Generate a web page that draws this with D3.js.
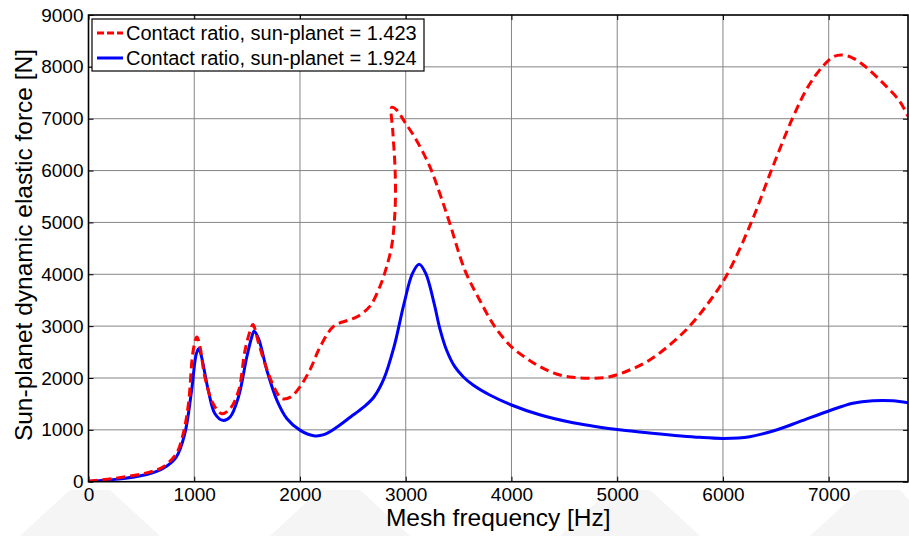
<!DOCTYPE html>
<html>
<head>
<meta charset="utf-8">
<script src="https://cdn.jsdelivr.net/npm/d3@7"></script>
<style>
    body { margin: 0; background: #ffffff; }
    .graph text { font-family: "Liberation Sans", Arial, sans-serif; fill: #000; }
    .style_tick { font-size: 19px; }
    .axis_label { font-size: 24.5px; }
    .legend_text { font-size: 20px; }
</style>
</head>
<body>
<div class="graph_container"></div>
<script>
//^ DATA //
const xTicks = [0, 1000, 2000, 3000, 4000, 5000, 6000, 7000];
const yTicks = [0, 1000, 2000, 3000, 4000, 5000, 6000, 7000, 8000, 9000];

const seriesNames = ["Contact ratio, sun-planet = 1.423", "Contact ratio, sun-planet = 1.924"];

// contact ratio 1.423 (red dashed)
const redFreq = [0, 230, 550, 700, 830, 895, 945, 990, 1025, 1055, 1100, 1180, 1260, 1340, 1420, 1480, 1530, 1555, 1610, 1690,
    1770, 1830, 1910, 2000, 2100, 2190, 2320, 2450, 2540, 2660, 2755, 2820, 2866, 2891, 2903, 2897, 2877, 2868, 2913, 2990,
    3100, 3228, 3322, 3417, 3559, 3700, 3842, 4000, 4142, 4267, 4425, 4582, 4756, 4929, 5118, 5307, 5496, 5685, 5874, 6041,
    6268, 6457, 6656, 6800, 6940, 7040, 7119, 7229, 7355, 7512, 7670, 7749];
const redForce = [10, 60, 170, 280, 540, 920, 1500, 2530, 2790, 2600, 2020, 1500, 1310, 1410, 1760, 2530, 2920, 3030, 2660, 2150,
    1760, 1600, 1630, 1830, 2180, 2600, 3000, 3110, 3180, 3380, 3760, 4150, 4530, 4980, 5500, 6140, 6780, 7220, 7170, 6940,
    6590, 6075, 5560, 4980, 4080, 3500, 2990, 2600, 2380, 2220, 2077, 2013, 1994, 2025, 2154, 2347, 2637, 3000, 3480, 4000,
    5000, 6000, 7000, 7600, 8000, 8190, 8230, 8170, 7990, 7690, 7340, 7050];

// contact ratio 1.924 (blue solid)
const blueFreq = [0, 230, 550, 700, 830, 910, 975, 1020, 1044, 1070, 1133, 1196, 1269, 1339, 1418, 1497, 1544, 1566, 1608, 1687,
    1782, 1877, 2003, 2130, 2225, 2351, 2478, 2604, 2699, 2794, 2889, 2984, 3063, 3127, 3190, 3269, 3322, 3386, 3464, 3543,
    3637, 3795, 4000, 4267, 4582, 4835, 5000, 5307, 5780, 6007, 6253, 6505, 6723, 7006, 7229, 7418, 7607, 7749];
const blueForce = [10, 40, 140, 250, 475, 920, 1760, 2470, 2570, 2400, 1760, 1310, 1183, 1248, 1633, 2405, 2790, 2900, 2760, 2148,
    1570, 1215, 990, 887, 907, 1055, 1248, 1441, 1633, 1987, 2598, 3434, 4013, 4193, 4013, 3434, 2958, 2540, 2218, 2025,
    1865, 1672, 1479, 1290, 1135, 1050, 1005, 940, 855, 835, 868, 997, 1157, 1369, 1512, 1562, 1562, 1524];

document.addEventListener("DOMContentLoaded", () => {
    //^ CHART CONTAINER DECLARATION//
    const container = document.querySelector(".graph_container");

    //^ DIMENTIONS //
    const svgWidth = 909;
    const svgHeight = 536;
    const plotLeft = 88.5;
    const plotRight = 908;
    const plotTop = 15;
    const plotBottom = 481.7;

    const svg = d3.select(container).append("svg").attr("width", svgWidth).attr("height", svgHeight).attr("class", "graph");

    //^ WATERMARK (faint background stripes) //
    const stripes = [[20, 536, 70, 490, 110, 490, 160, 536], [270, 536, 320, 490, 360, 490, 410, 536], [560, 536, 610, 490, 650, 490, 700, 536], [810, 536, 860, 490, 900, 490, 909, 500, 909, 536]];
    stripes.forEach((s) => {
        const pts = [];
        for (let i = 0; i < s.length; i += 2) pts.push(s[i] + "," + s[i + 1]);
        svg.append("polygon").attr("points", pts.join(" ")).attr("fill", "#f5f5f5");
    });

    //^ SCALES //
    const xScale = d3.scaleLinear().domain([0, 7750]).range([plotLeft, plotRight]);
    const yScale = d3.scaleLinear().domain([0, 9000]).range([plotBottom, plotTop]);

    svg.append("rect").attr("x", plotLeft).attr("y", plotTop).attr("width", plotRight - plotLeft).attr("height", plotBottom - plotTop).attr("fill", "#ffffff");

    //^ GRID //
    svg.append("g")
        .selectAll("line")
        .data(xTicks.filter((t) => t > 0))
        .join("line")
        .attr("x1", (d) => xScale(d))
        .attr("x2", (d) => xScale(d))
        .attr("y1", plotTop)
        .attr("y2", plotBottom)
        .attr("stroke", "#858585")
        .attr("stroke-width", 1);
    svg.append("g")
        .selectAll("line")
        .data(yTicks.filter((t) => t > 0 && t < 9000))
        .join("line")
        .attr("x1", plotLeft)
        .attr("x2", plotRight)
        .attr("y1", (d) => yScale(d))
        .attr("y2", (d) => yScale(d))
        .attr("stroke", "#858585")
        .attr("stroke-width", 1);

    //^ AXES (inside ticks, all four sides) //
    const xAxis = d3.axisBottom(xScale).tickValues(xTicks).tickSize(-5).tickSizeOuter(0).tickPadding(6).tickFormat(d3.format("d"));
    const yAxis = d3.axisLeft(yScale).tickValues(yTicks).tickSize(-5).tickSizeOuter(0).tickPadding(5).tickFormat(d3.format("d"));

    const gx = svg.append("g").attr("transform", "translate(0," + plotBottom + ")").call(xAxis);
    const gy = svg.append("g").attr("transform", "translate(" + plotLeft + ",0)").call(yAxis);
    svg.append("g").attr("transform", "translate(0," + plotTop + ")").call(d3.axisTop(xScale).tickValues(xTicks).tickSize(-5).tickSizeOuter(0).tickFormat(""));
    svg.append("g").attr("transform", "translate(" + plotRight + ",0)").call(d3.axisRight(yScale).tickValues(yTicks).tickSize(-5).tickSizeOuter(0).tickFormat(""));

    svg.selectAll(".domain").remove();
    svg.selectAll(".tick line").attr("stroke", "#000").attr("stroke-width", 1);
    gx.selectAll("text").attr("class", "style_tick");
    gy.selectAll("text").attr("class", "style_tick");

    //^ CURVES //
    svg.append("clipPath").attr("id", "plotClip").append("rect").attr("x", plotLeft).attr("y", plotTop).attr("width", plotRight - plotLeft).attr("height", plotBottom - plotTop);

    const line = d3
        .line()
        .x((d) => xScale(d[0]))
        .y((d) => yScale(d[1]))
        .curve(d3.curveCatmullRom.alpha(0.5));

    const redData = redFreq.map((f, i) => [f, redForce[i]]);
    const blueData = blueFreq.map((f, i) => [f, blueForce[i]]);

    svg.append("path").datum(blueData).attr("clip-path", "url(#plotClip)").attr("d", line).attr("fill", "none").attr("stroke", "#0000ff").attr("stroke-width", 3).attr("stroke-linejoin", "round");
    svg.append("path").datum(redData).attr("clip-path", "url(#plotClip)").attr("d", line).attr("fill", "none").attr("stroke", "#ff0000").attr("stroke-width", 3).attr("stroke-dasharray", "9,5");

    //^ BOX //
    svg.append("rect").attr("x", plotLeft).attr("y", plotTop).attr("width", plotRight - plotLeft).attr("height", plotBottom - plotTop).attr("fill", "none").attr("stroke", "#000").attr("stroke-width", 1.6);

    //^ LEGEND //
    const legend = svg.append("g").attr("transform", "translate(92,19)");
    legend.append("rect").attr("width", 332).attr("height", 52).attr("fill", "#fff").attr("stroke", "#000").attr("stroke-width", 1.2);
    const legendStyles = [
        { color: "#ff0000", dash: "7,3" },
        { color: "#0000ff", dash: null },
    ];
    seriesNames.forEach((name, i) => {
        const yy = 14 + i * 25;
        legend.append("line").attr("x1", 5).attr("x2", 31).attr("y1", yy).attr("y2", yy).attr("stroke", legendStyles[i].color).attr("stroke-width", 3).attr("stroke-dasharray", legendStyles[i].dash);
        legend.append("text").attr("class", "legend_text").attr("x", 34).attr("y", yy + 7).text(name);
    });

    //^ AXIS LABELS //
    svg.append("text").attr("class", "axis_label").attr("x", (plotLeft + plotRight) / 2).attr("y", 526).attr("text-anchor", "middle").text("Mesh frequency [Hz]");
    svg.append("text").attr("class", "axis_label").attr("transform", "translate(32," + 245 + ") rotate(-90)").attr("text-anchor", "middle").text("Sun-planet dynamic elastic force [N]");
});
</script>
</body>
</html>
